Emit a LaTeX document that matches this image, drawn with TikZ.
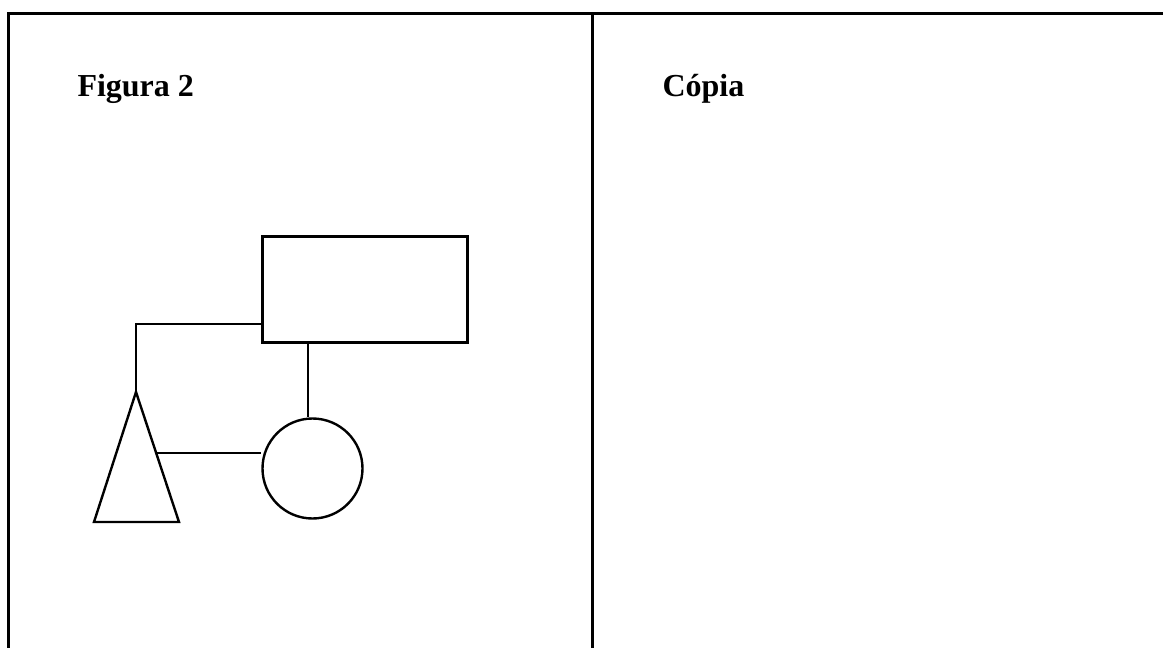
\documentclass[tikz,border=0pt]{standalone}
\usepackage{fontspec}
\setmainfont{Liberation Serif}
\usetikzlibrary{calc}

\begin{document}
\begin{tikzpicture}[x=0.5pt,y=-0.5pt,line width=1.5pt]
    \useasboundingbox (0,0) rectangle (1163,648);
    % table
    \coordinate (TL) at (8,13);
    \coordinate (TR) at (1163,13);
    \coordinate (BL) at (8,648);
    \coordinate (TM) at (592,13);
    \coordinate (BM) at (592,648);
    \draw (BL) -- (TL) -- (TR);
    \draw (TM) -- (BM);
    \begin{scope}[every node/.style={anchor=base west,inner sep=0pt,font=\fontsize{16}{19}\selectfont\bfseries}]
        \node (fig) at (76,97) {Figura 2};
        \node (copy) at (661,97) {Cópia};
    \end{scope}
    % figure
    \begin{scope}[every node/.style={draw=black,inner sep=0pt}]
        \node[rectangle,minimum width=102.5pt,minimum height=53pt] (R) at (364.5,289) {};
        \node[circle,line width=1.2pt,minimum size=50pt] (C) at (312.5,468.5) {};
    \end{scope}
    \coordinate (T) at (136,392);
    \coordinate (TBL) at (94,522);
    \coordinate (TBR) at (179,522);
    \draw[line width=1.2pt,line join=miter] (T) -- (TBR) -- (TBL) -- cycle;
    \coordinate (TS) at ($(T)!0.47!(TBR)$);
    \begin{scope}[line width=1.2pt]
        \draw (R.west |- 0,324) -| (T);
        \draw (R.south -| 308,0) -- (C.north -| 308,0);
        \draw (TS) -- (TS -| C.west);
    \end{scope}
\end{tikzpicture}
\end{document}
